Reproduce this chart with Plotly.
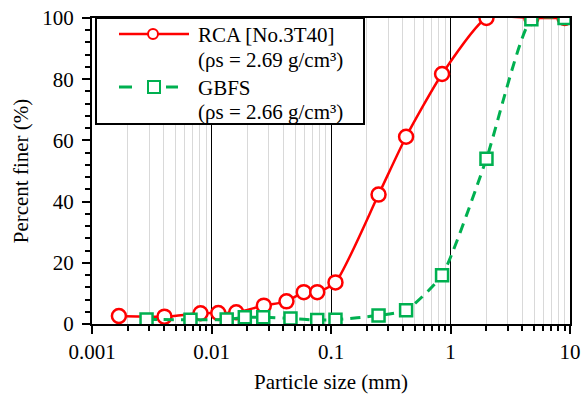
import plotly.graph_objects as go

# ---- data ----
rca_size = [0.00168, 0.00404, 0.0081, 0.0114, 0.0161, 0.0274, 0.0424, 0.0592, 0.0767, 0.109,
            0.25, 0.425, 0.85, 2.0, 4.75, 9.0]
rca_finer = [2.6, 2.4, 3.5, 3.6, 3.8, 6.0, 7.4, 10.4, 10.4, 13.6,
             42.3, 61.2, 81.7, 100, 100, 100]

gbfs_size = [0.00286, 0.00667, 0.0134, 0.019, 0.0271, 0.0458, 0.0767, 0.109,
             0.25, 0.425, 0.85, 2.0, 4.75, 9.0]
gbfs_finer = [1.5, 1.4, 1.5, 2.2, 2.2, 1.8, 1.3, 1.4,
              2.8, 4.5, 15.9, 54.0, 99.6, 100]

x_tickvals = [0.001, 0.01, 0.1, 1, 10]
x_ticktext = ["0.001", "0.01", "0.1", "1", "10"]
legend_lines = ["RCA [No.3T40]", "(ρs = 2.69 g/cm³)", "GBFS", "(ρs = 2.66 g/cm³)"]

RED = "#ff0000"
GREEN = "#00b050"
FONT = "Liberation Serif, Times New Roman, serif"

fig = go.Figure()
fig.add_trace(go.Scatter(
    x=rca_size, y=rca_finer, mode="lines+markers", name="RCA",
    line=dict(color=RED, width=2.5, shape="spline", smoothing=0.6),
    marker=dict(symbol="circle", size=14, color="white", line=dict(color=RED, width=2.5)),
    showlegend=False))
fig.add_trace(go.Scatter(
    x=gbfs_size, y=gbfs_finer, mode="lines+markers", name="GBFS",
    line=dict(color=GREEN, width=3, dash="10px,7px", shape="spline", smoothing=0.5),
    marker=dict(symbol="square", size=12, color="white", line=dict(color=GREEN, width=2.5)),
    showlegend=False))

minor_x = [m * 10 ** e for e in range(-3, 1) for m in range(2, 10)]

fig.update_xaxes(
    type="log", range=[-3, 1], automargin=False,
    tickvals=x_tickvals, ticktext=x_ticktext,
    ticks="outside", ticklen=8, tickwidth=2, tickcolor="black",
    showline=True, linewidth=2, linecolor="black", mirror=True,
    showgrid=True, gridcolor="black", gridwidth=1,
    minor=dict(tickvals=minor_x, ticks="outside", ticklen=5, tickwidth=1.5, tickcolor="black",
               showgrid=True, gridcolor="#d9d9d9", gridwidth=1),
    tickfont=dict(family=FONT, size=21, color="black"),
    title=dict(text="Particle size (mm)", font=dict(family=FONT, size=21, color="black"), standoff=12),
    zeroline=False,
)
fig.update_yaxes(
    range=[0, 100], dtick=20, automargin=False,
    ticks="outside", ticklen=8, tickwidth=2, tickcolor="black",
    showline=True, linewidth=2, linecolor="black", mirror=True,
    showgrid=False, zeroline=False,
    minor=dict(dtick=4, ticks="outside", ticklen=5, tickwidth=1.5, tickcolor="black", showgrid=False),
    tickfont=dict(family=FONT, size=21, color="black"),
    ticklabelstandoff=4,
    title=dict(text="Percent finer (%)", font=dict(family=FONT, size=21, color="black"), standoff=8),
)

# ---- custom legend box ----
def pshape(kind, x0, x1, y0, y1, **kw):
    return dict(type=kind, xref="paper", yref="paper", xsizemode="pixel", ysizemode="pixel",
                xanchor=0, yanchor=1, x0=x0, x1=x1, y0=y0, y1=y1, layer="above", **kw)

shapes = [
    pshape("rect", 4, 272, 0, -106, line=dict(color="black", width=2), fillcolor="white"),
    pshape("line", 27, 97, -16, -16, line=dict(color=RED, width=2.5)),
    pshape("circle", 56, 66, -11, -21, line=dict(color=RED, width=2), fillcolor="white"),
    pshape("line", 27, 40, -69, -69, line=dict(color=GREEN, width=3)),
    pshape("line", 74, 86, -69, -69, line=dict(color=GREEN, width=3)),
    pshape("rect", 56, 68, -63, -75, line=dict(color=GREEN, width=2), fillcolor="white"),
]
fig.update_layout(shapes=shapes)

text_y_px = [35, 60, 88, 112]
annotations = []
for txt, ypx in zip(legend_lines, text_y_px):
    annotations.append(dict(
        xref="paper", yref="paper", x=(196 - 92) / 478, y=(324 - ypx) / 306,
        xanchor="left", yanchor="middle", text=txt, showarrow=False,
        font=dict(family=FONT, size=21, color="black")))
fig.update_layout(annotations=annotations)

fig.update_layout(
    width=587, height=394,
    margin=dict(l=92, r=17, t=18, b=70),
    paper_bgcolor="white", plot_bgcolor="white",
    font=dict(family=FONT, size=21, color="black"),
)

# remove the page's default 8px body margin so the figure fills the window exactly
fig.write_html("out.html", config={"displayModeBar": False},
               post_script="document.body.style.margin='0px';")
